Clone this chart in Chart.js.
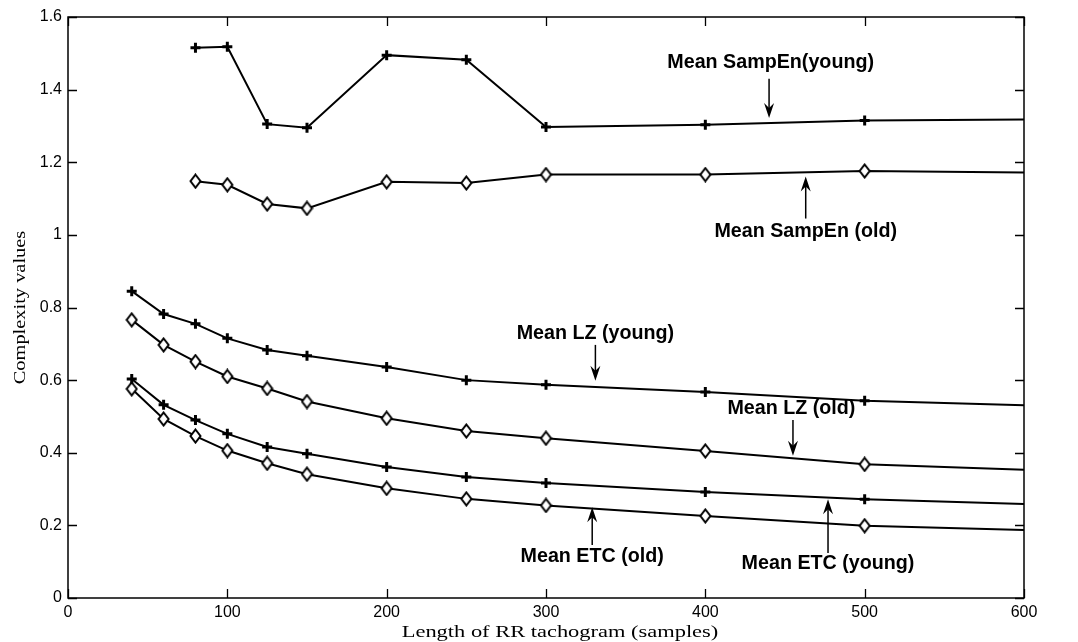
<!DOCTYPE html>
<html><head><meta charset="utf-8">
<script src="https://cdn.jsdelivr.net/npm/chart.js@4/dist/chart.umd.min.js"></script>
<style>html,body{margin:0;padding:0;background:#fff}#wrap{width:1078px;height:642px}</style>
</head><body><div id="wrap"><canvas id="c" width="1078" height="642"></canvas></div>
<script>
const lengths       = [40, 60, 80, 100, 125, 150, 200, 250, 300, 400, 500, 600];
const sampEnYoung   = [null, null, 1.515, 1.518, 1.305, 1.295, 1.495, 1.482, 1.297, 1.303, 1.315, 1.318];
const sampEnOld     = [null, null, 1.148, 1.138, 1.085, 1.073, 1.146, 1.143, 1.166, 1.166, 1.176, 1.172];
const lzYoung       = [0.845, 0.782, 0.755, 0.715, 0.683, 0.667, 0.636, 0.600, 0.587, 0.567, 0.543, 0.531];
const lzOld         = [0.766, 0.697, 0.651, 0.610, 0.577, 0.541, 0.495, 0.460, 0.440, 0.405, 0.368, 0.353];
const etcYoung      = [0.603, 0.532, 0.490, 0.452, 0.416, 0.397, 0.361, 0.333, 0.317, 0.292, 0.272, 0.259];
const etcOld        = [0.576, 0.493, 0.446, 0.406, 0.371, 0.341, 0.302, 0.273, 0.255, 0.226, 0.199, 0.187];
const xTicks        = [0, 100, 200, 300, 400, 500, 600];
const yTicks        = [0, 0.2, 0.4, 0.6, 0.8, 1, 1.2, 1.4, 1.6];
const xTitle = 'Length of RR tachogram (samples)';
const yTitle = 'Complexity values';

// annotation labels: [text, textX, textY, arrowX, arrowTailY, arrowTipY]
const annotations = [
  ['Mean SampEn(young)', 441, 1.474, 440, 1.43, 1.322],
  ['Mean SampEn (old)',  463, 1.010, 463, 1.045, 1.161],
  ['Mean LZ (young)',    331, 0.728, 331, 0.697, 0.598],
  ['Mean LZ (old)',      454, 0.522, 455, 0.49, 0.392],
  ['Mean ETC (old)',     329, 0.113, 329, 0.146, 0.250],
  ['Mean ETC (young)',   477, 0.096, 477, 0.124, 0.272]
];

function pts(arr){ const out=[]; arr.forEach((v,i)=>{ if(v!==null) out.push({x:lengths[i], y:v}); }); return out; }

// tall open diamond marker
const diamond = document.createElement('canvas');
diamond.width = 13; diamond.height = 16;
(function(){ const g = diamond.getContext('2d');
  g.beginPath(); g.moveTo(6.5,1.5); g.lineTo(11.5,8); g.lineTo(6.5,14.5); g.lineTo(1.5,8); g.closePath();
  g.fillStyle='#fff'; g.fill(); g.lineWidth=2; g.strokeStyle='#000'; g.stroke(); })();

const youngStyle = {pointStyle:'cross', pointRadius: c => c.raw && c.raw.x===600 ? 0 : 5, pointBorderWidth:3};
const oldStyle   = {pointStyle: c => c.raw && c.raw.x===600 ? false : diamond, pointRadius:5};

function ds(label, arr, st){
  return Object.assign({label, data:pts(arr), borderColor:'#000', backgroundColor:'#000', pointBorderColor:'#000',
    borderWidth:2, tension:0, showLine:true}, st);
}

const frame = {
  id:'frame',
  afterDatasetsDraw(chart){
    const {ctx, chartArea:a, scales:{x, y}} = chart;
    ctx.save();
    ctx.strokeStyle='#000'; ctx.lineWidth=1.5;
    ctx.strokeRect(a.left, a.top, a.right-a.left, a.bottom-a.top);
    ctx.lineWidth=1.3;
    const tl = 9;
    ctx.beginPath();
    xTicks.forEach(v=>{ const px=Math.round(x.getPixelForValue(v))+0.5;
      ctx.moveTo(px,a.bottom); ctx.lineTo(px,a.bottom-tl);
      ctx.moveTo(px,a.top); ctx.lineTo(px,a.top+tl); });
    yTicks.forEach(v=>{ const py=Math.round(y.getPixelForValue(v))+0.5;
      ctx.moveTo(a.left,py); ctx.lineTo(a.left+tl,py);
      ctx.moveTo(a.right,py); ctx.lineTo(a.right-tl,py); });
    ctx.stroke();
    // annotations
    ctx.fillStyle='#000';
    ctx.font='bold 19.7px "Liberation Sans", Arial, sans-serif';
    ctx.textAlign='center'; ctx.textBaseline='middle';
    annotations.forEach(([t, tx, ty, ax, ay0, ay1])=>{
      ctx.fillText(t, x.getPixelForValue(tx), y.getPixelForValue(ty));
      const px = x.getPixelForValue(ax), p0 = y.getPixelForValue(ay0), p1 = y.getPixelForValue(ay1);
      const dir = p1 > p0 ? 1 : -1;
      ctx.lineWidth=1.5;
      ctx.beginPath(); ctx.moveTo(px,p0); ctx.lineTo(px,p1 - dir*4); ctx.stroke();
      ctx.beginPath();
      ctx.moveTo(px, p1);
      ctx.lineTo(px-5, p1 - dir*15);
      ctx.lineTo(px, p1 - dir*10);
      ctx.lineTo(px+5, p1 - dir*15);
      ctx.closePath(); ctx.fill();
    });
    // axis titles (horizontally stretched serif, as in the reference)
    ctx.font='17px "Liberation Serif", "Times New Roman", serif';
    ctx.textBaseline='middle';
    ctx.save();
    ctx.translate(560, 633); ctx.scale(1.32, 1);
    ctx.fillText(xTitle, 0, 0);
    ctx.restore();
    ctx.save();
    ctx.translate(21, (a.top + a.bottom)/2); ctx.rotate(-Math.PI/2); ctx.scale(1.2, 1);
    ctx.fillText(yTitle, 0, 0);
    ctx.restore();
    ctx.restore();
  }
};

new Chart(document.getElementById('c'), {
  type:'scatter',
  data:{ datasets:[
    ds('Mean SampEn (young)', sampEnYoung, youngStyle),
    ds('Mean SampEn (old)', sampEnOld, oldStyle),
    ds('Mean LZ (young)', lzYoung, youngStyle),
    ds('Mean LZ (old)', lzOld, oldStyle),
    ds('Mean ETC (young)', etcYoung, youngStyle),
    ds('Mean ETC (old)', etcOld, oldStyle)
  ]},
  options:{
    responsive:false, animation:false, devicePixelRatio:1,
    layout:{padding:{top:17, right:54, left:0, bottom:0}},
    plugins:{legend:{display:false}, tooltip:{enabled:false}},
    scales:{
      x:{type:'linear', min:0, max:600,
        afterBuildTicks: s => { s.ticks = xTicks.map(v=>({value:v})); },
        afterFit: s => { s.height = 44; },
        grid:{display:false, drawTicks:false}, border:{display:false},
        ticks:{color:'#000', padding:5, maxRotation:0, font:{family:'"Liberation Sans", Arial, sans-serif', size:16}},
        title:{display:false}
      },
      y:{type:'linear', min:0, max:1.6,
        afterBuildTicks: s => { s.ticks = yTicks.map(v=>({value:v})); },
        afterFit: s => { s.width = 68; },
        grid:{display:false, drawTicks:false}, border:{display:false},
        ticks:{color:'#000', padding:6, callback: v => String(+v.toFixed(1)), font:{family:'"Liberation Sans", Arial, sans-serif', size:16}},
        title:{display:false}
      }
    }
  },
  plugins:[frame]
});
</script></body></html>
